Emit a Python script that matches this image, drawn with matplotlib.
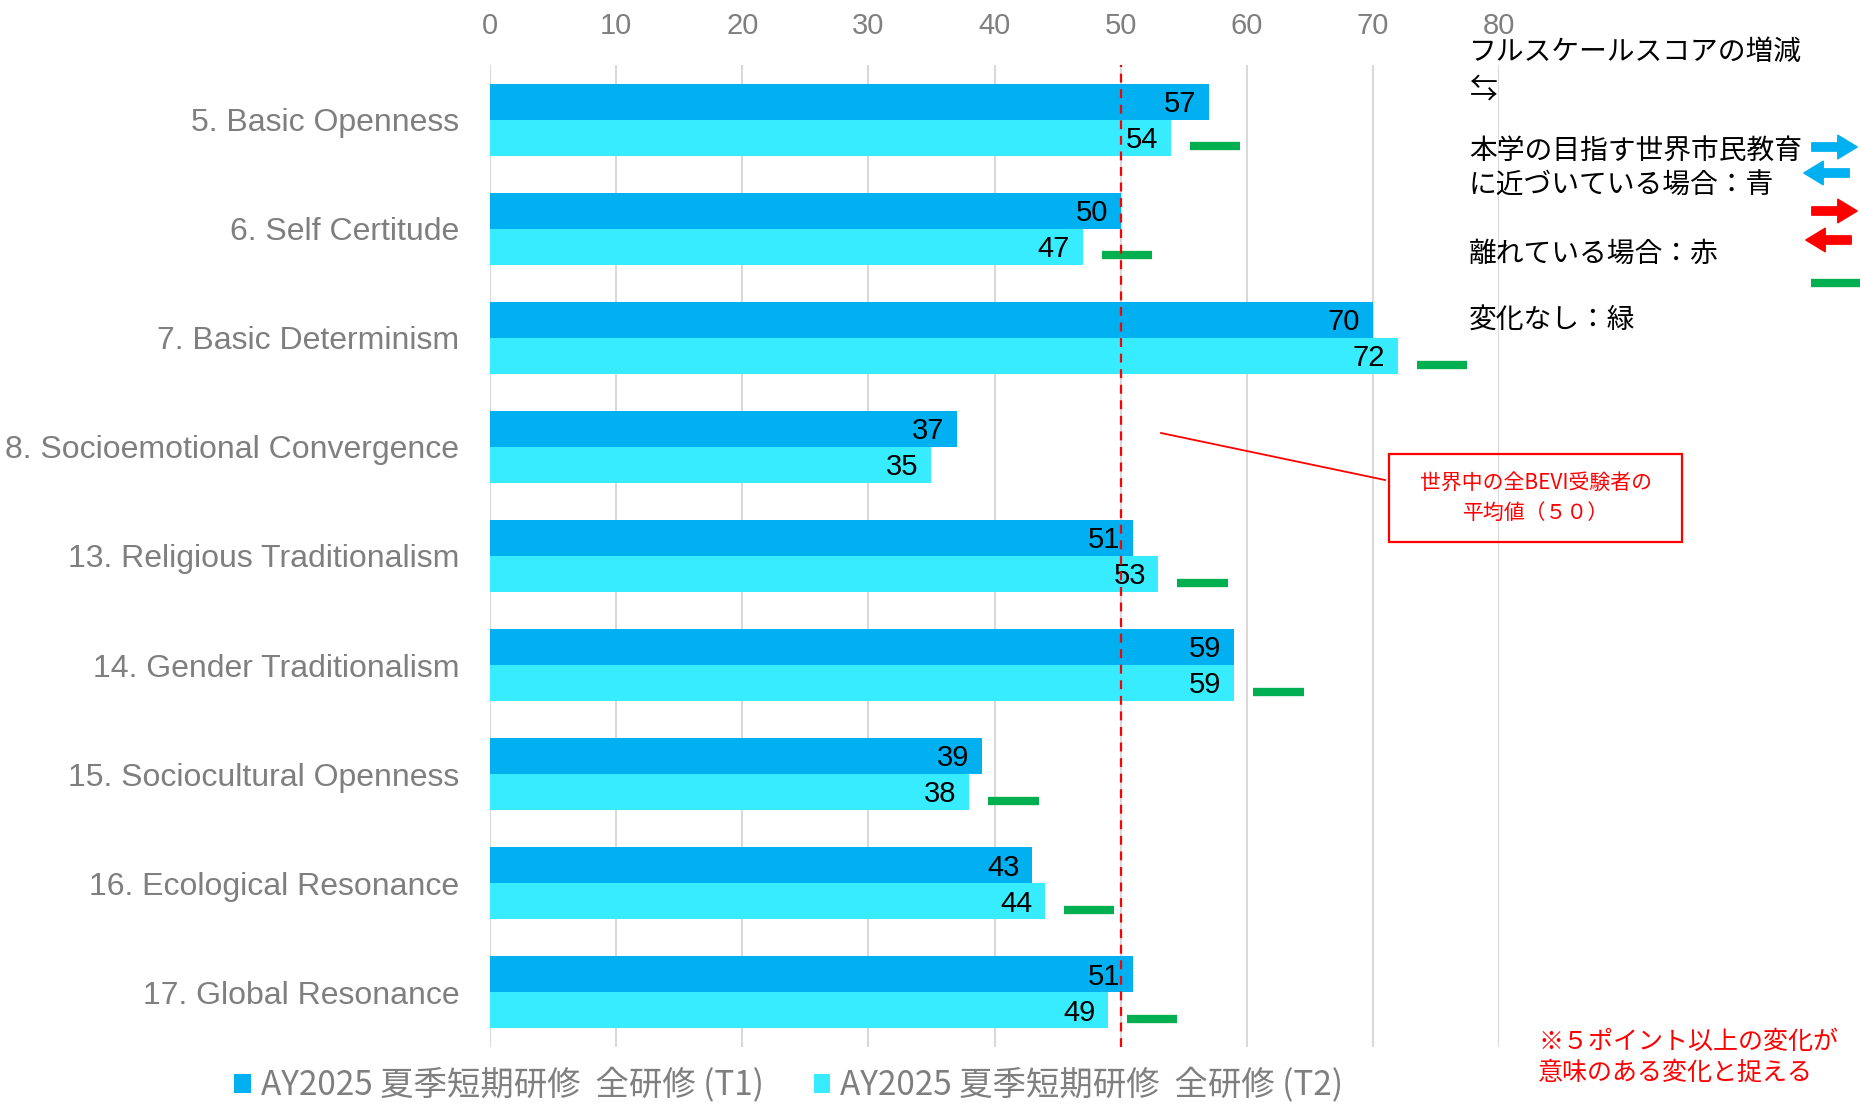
import numpy as np
import matplotlib
matplotlib.use("Agg")
import matplotlib.pyplot as plt
from matplotlib.patches import Rectangle, FancyArrowPatch

# datos
categorias = ["5. Basic Openness", "6. Self Certitude", "7. Basic Determinism",
              "8. Socioemotional Convergence", "13. Religious Traditionalism",
              "14. Gender Traditionalism", "15. Sociocultural Openness",
              "16. Ecological Resonance", "17. Global Resonance"]
t1 = [57, 50, 70, 37, 51, 59, 39, 43, 51]
t2 = [54, 47, 72, 35, 53, 59, 38, 44, 49]
# marca de cambio (verde = sin cambio), None = sin marca
marcas = ["green", "green", "green", None, "green", "green", "green", "green", "green"]
serie1 = "AY2025 夏季短期研修  全研修 (T1)"
serie2 = "AY2025 夏季短期研修  全研修 (T2)"
ticks_x = [0, 10, 20, 30, 40, 50, 60, 70, 80]
promedio = 50

c1 = "#00B0F0"
c2 = "#38ECFF"
verde = "#00B050"
rojo = "#FF0000"
gris = "#7F7F7F"
jp = ["Noto Sans CJK JP", "DejaVu Sans"]
narrow = ["Liberation Sans Narrow", "Liberation Sans"]

W, H = 1860, 1104
fig = plt.figure(figsize=(W / 100, H / 100), dpi=100)
ax = fig.add_axes([490 / W, 1 - 1047 / H, (1499 - 490) / W, (1047 - 65) / H])

y = np.arange(len(categorias))
h = 0.33
b1 = ax.barh(y - h / 2, t1, height=h, color=c1, label=serie1, zorder=2)
b2 = ax.barh(y + h / 2, t2, height=h, color=c2, label=serie2, zorder=2)

for i in range(len(categorias)):
    ax.text(t1[i] - 1.0, y[i] - h / 2 + 0.02, str(t1[i]), ha="right", va="center",
            fontsize=21, family=narrow, color="black", zorder=4)
    ax.text(t2[i] - 1.0, y[i] + h / 2 + 0.02, str(t2[i]), ha="right", va="center",
            fontsize=21, family=narrow, color="black", zorder=4)
    if marcas[i] is not None:
        ax.plot([t2[i] + 1.5, t2[i] + 5.5], [y[i] + h / 2 + 0.08] * 2, color=verde,
                lw=6, solid_capstyle="butt", zorder=3)

ax.axvline(promedio, color=rojo, ls=(0, (4, 3)), lw=1.6, zorder=5)

ax.set_xlim(0, 80)
ax.set_ylim(len(categorias) - 0.5, -0.5)
ax.set_xticks(ticks_x)
ax.set_yticks(y)
ax.set_yticklabels(categorias, family="Liberation Sans", fontsize=23, color=gris)
ax.xaxis.tick_top()
ax.tick_params(axis="x", length=0, pad=18, labelsize=21, labelcolor=gris)
ax.tick_params(axis="y", length=0, pad=22)
for lb in ax.get_xticklabels():
    lb.set_family("Liberation Sans")
ax.grid(axis="x", color="#D9D9D9", lw=1.5, zorder=0)
for s in ax.spines.values():
    s.set_visible(False)

# leyenda inferior
fig.legend(handles=[b1, b2], loc="center left", bbox_to_anchor=(234 / W, 1 - 1086 / H),
           ncol=2, frameon=False, prop={"family": jp, "size": 24}, labelcolor=gris,
           handlelength=0.5, handleheight=0.5, handletextpad=0.3, columnspacing=1.5,
           borderpad=0, borderaxespad=0)

# leyenda derecha
tx = 1469 / W
fig.text(tx, 1 - 52 / H, "フルスケールスコアの増減", family=jp, fontsize=20, va="center")
fig.text(tx, 1 - 90 / H, "⇆", family=jp, fontsize=20, va="center")
fig.text(tx, 1 - 152 / H, "本学の目指す世界市民教育", family=jp, fontsize=20, va="center")
fig.text(tx, 1 - 186 / H, "に近づいている場合：青", family=jp, fontsize=20, va="center")
fig.text(tx, 1 - 254 / H, "離れている場合：赤", family=jp, fontsize=20, va="center")
fig.text(tx, 1 - 320 / H, "変化なし：緑", family=jp, fontsize=20, va="center")

flechas = [(1809, 1860, 147, c1), (1852, 1801, 173, c1),
           (1809, 1860, 211, rojo), (1854, 1803, 240, rojo)]
for xa, xb, yy, cc in flechas:
    fig.add_artist(FancyArrowPatch(
        (xa / W, 1 - yy / H), (xb / W, 1 - yy / H), transform=fig.transFigure,
        arrowstyle="simple,head_length=14,head_width=17,tail_width=6",
        color=cc, mutation_scale=1))
fig.add_artist(plt.Line2D([1811 / W, 1860 / W], [1 - 283 / H] * 2, color=verde, lw=6,
                          solid_capstyle="butt", transform=fig.transFigure))

# anotacion del promedio
fig.add_artist(plt.Line2D([1161 / W, 1385 / W], [1 - 433 / H, 1 - 480 / H], color=rojo,
                          lw=1.3, transform=fig.transFigure))
fig.add_artist(Rectangle((1389 / W, 1 - 542 / H), (1682 - 1389) / W, (542 - 454) / H,
                         fill=False, ec=rojo, lw=1.6, transform=fig.transFigure))
fig.text(1536 / W, 1 - 498 / H, "世界中の全BEVI受験者の\n平均値（５０）", family=jp,
         fontsize=15, color=rojo, ha="center", va="center", linespacing=1.45)

fig.text(1538 / W, 1 - 1057 / H, "※５ポイント以上の変化が\n意味のある変化と捉える", family=jp,
         fontsize=18, color=rojo, ha="left", va="center", linespacing=1.25)

plt.savefig("out.png", dpi=100)
